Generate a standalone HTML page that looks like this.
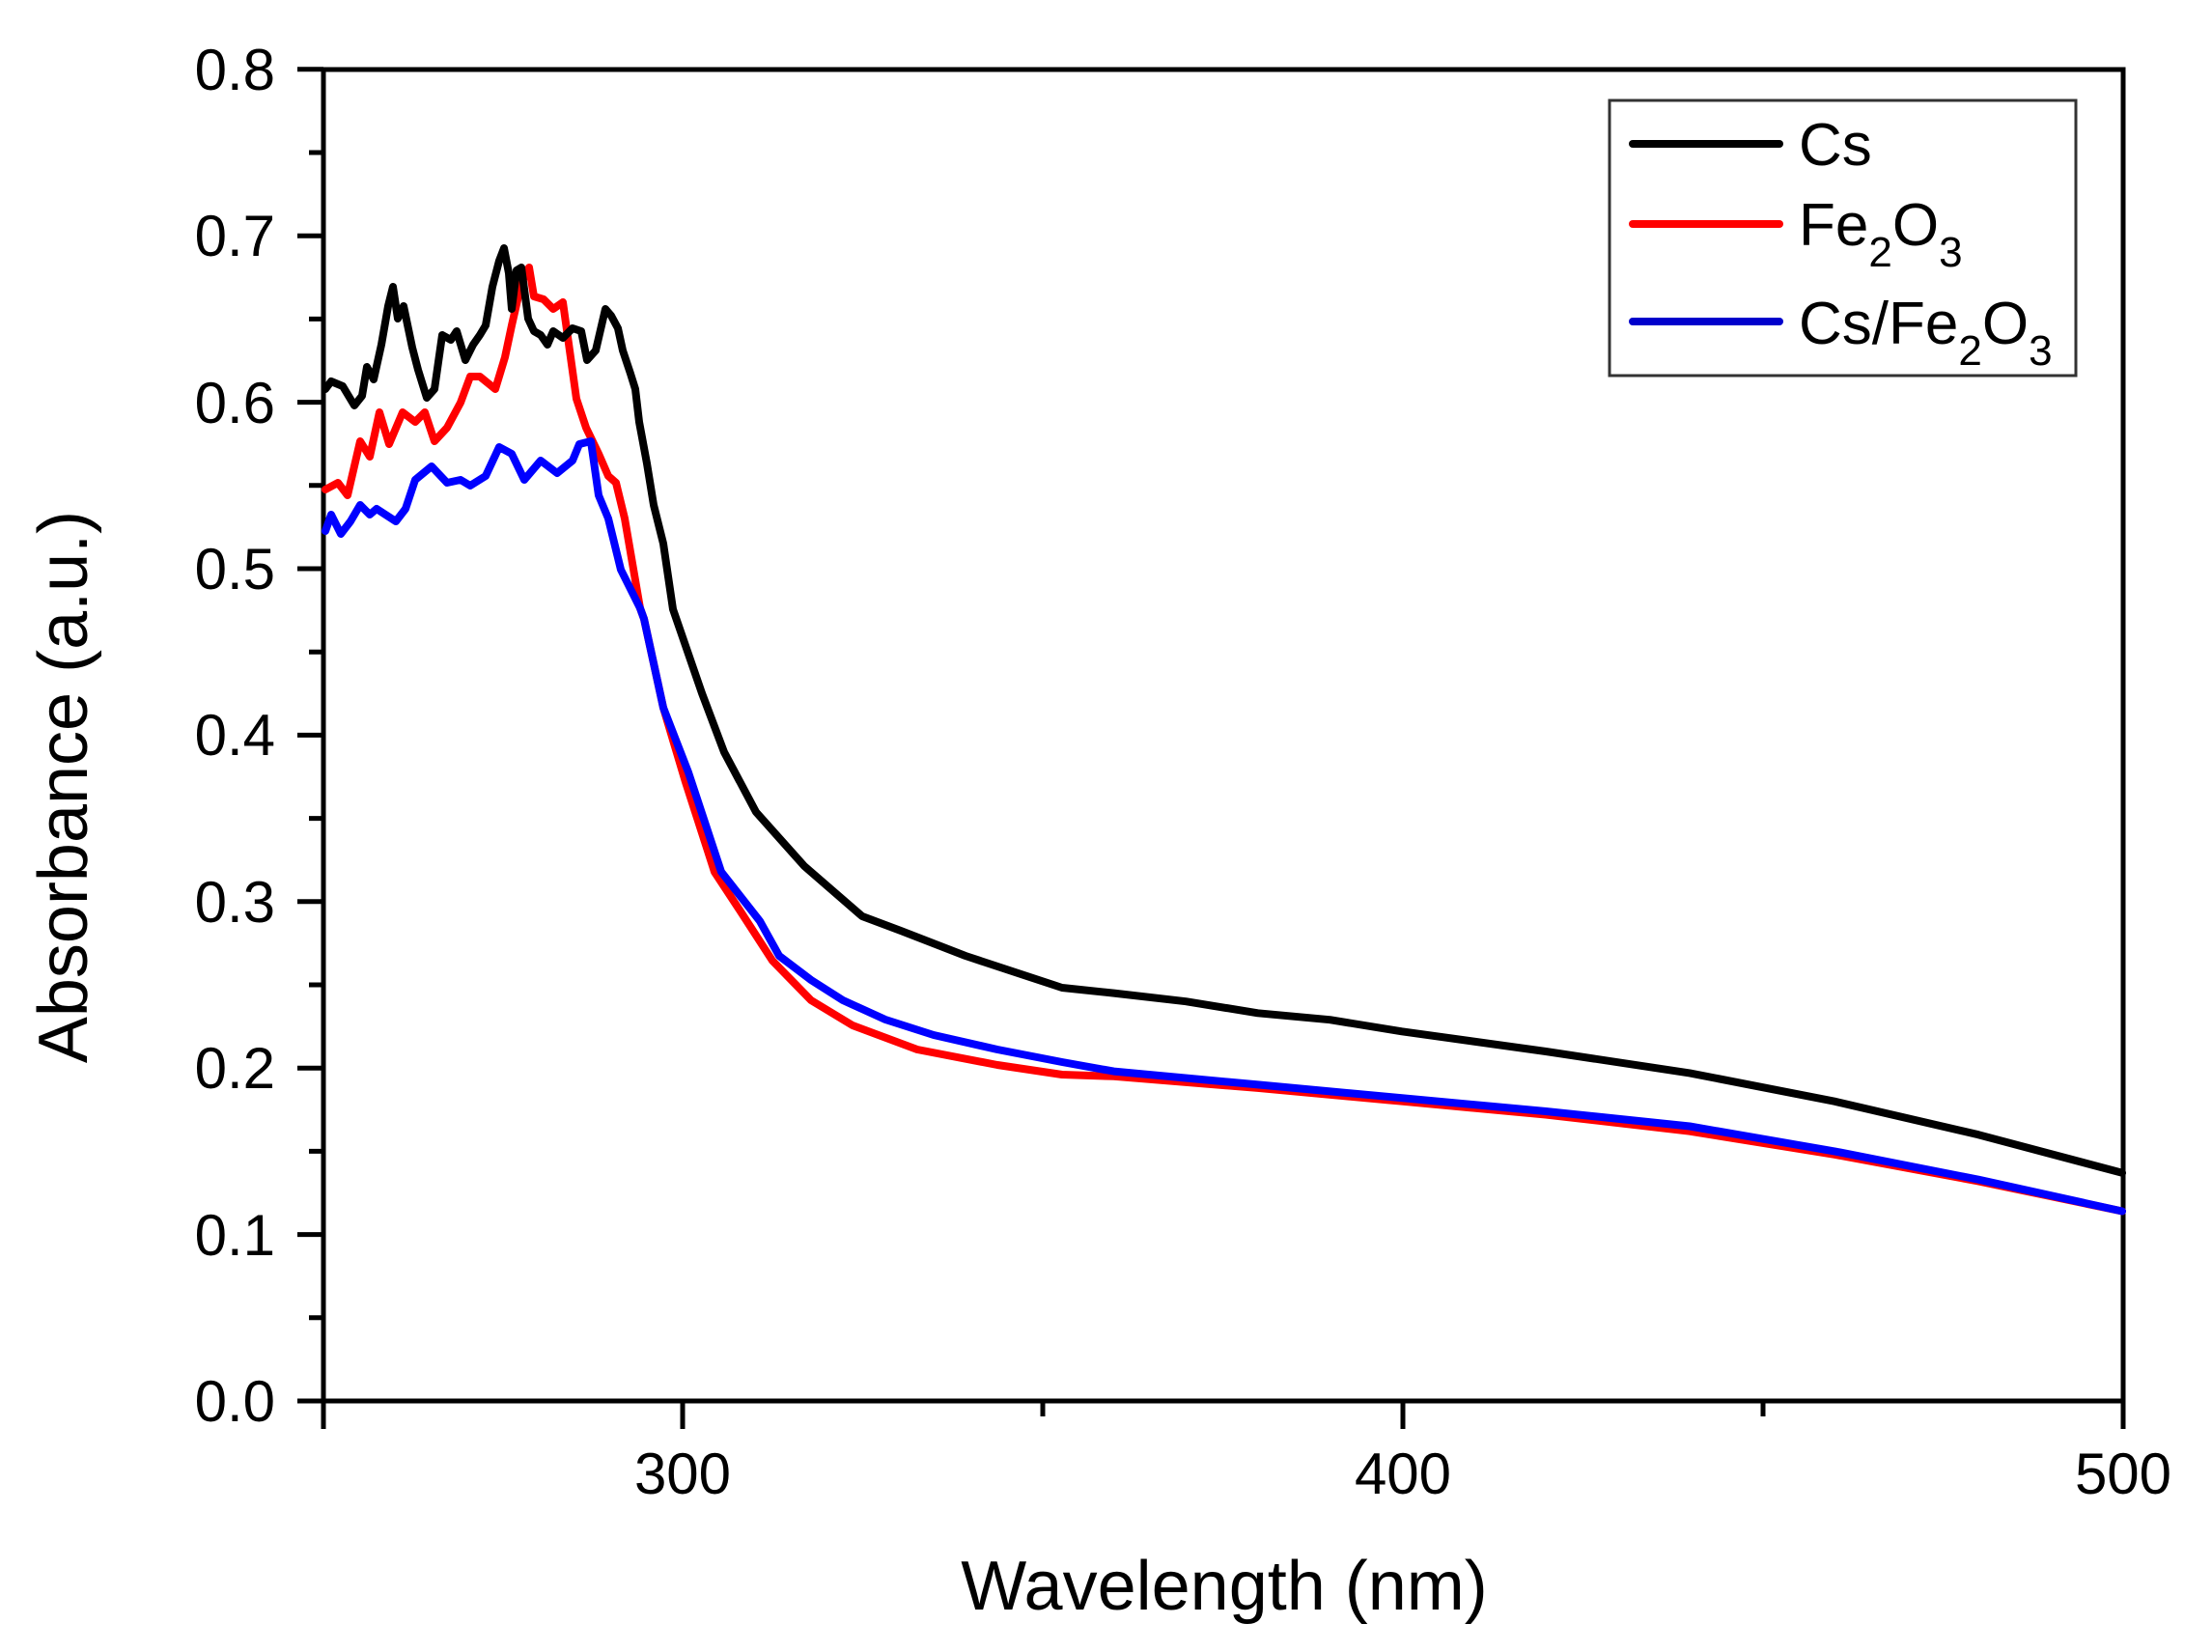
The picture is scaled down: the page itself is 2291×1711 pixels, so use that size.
<!DOCTYPE html>
<html><head><meta charset="utf-8"><style>
html,body{margin:0;padding:0;background:#fff;}
svg{display:block;font-family:"Liberation Sans",Arial,sans-serif;}
</style></head><body>
<svg width="2291" height="1711" viewBox="0 0 2291 1711" xmlns="http://www.w3.org/2000/svg">
<rect width="2291" height="1711" fill="#fff"/>
<g stroke="#000" stroke-width="5" fill="none">
<rect x="335" y="72" width="1864" height="1379"/>
<path d="M308 1451H335M308 1278.6H335M308 1106.2H335M308 933.8H335M308 761.4H335M308 589H335M308 416.6H335M308 244.2H335M308 71.8H335"/>
<path d="M320 1364.8H335M320 1192.4H335M320 1020H335M320 847.6H335M320 675.2H335M320 502.8H335M320 330.4H335M320 158H335"/>
<path d="M707 1451V1480M1453 1451V1480M2199 1451V1480M335 1451V1480"/>
<path d="M1080 1451V1467M1826 1451V1467"/>
</g>
<g font-size="60" fill="#000" text-anchor="end">
<text x="285" y="1472">0.0</text><text x="285" y="1300">0.1</text><text x="285" y="1127">0.2</text><text x="285" y="955">0.3</text><text x="285" y="782">0.4</text><text x="285" y="610">0.5</text><text x="285" y="438">0.6</text><text x="285" y="265">0.7</text><text x="285" y="93">0.8</text>
</g>
<g font-size="60" fill="#000" text-anchor="middle">
<text x="707" y="1547">300</text><text x="1453" y="1547">400</text><text x="2199" y="1547">500</text>
</g>
<text x="1268" y="1667" font-size="72" text-anchor="middle">Wavelength (nm)</text>
<text transform="translate(90,815) rotate(-90)" font-size="72" text-anchor="middle">Absorbance (a.u.)</text>
<g fill="none" stroke-width="8" stroke-linejoin="round" stroke-linecap="round">
<polyline stroke="#ff0000" points="337,507 350,500 360,513 373,457 383,473 393,427 403,460 417,427 430,437 440,427 450,457 463,443 477,417 487,390 497,390 513,403 523,370 530,337 540,293 548,277 553,307 563,310 573,320 583,313 590,363 597,413 607,443 620,470 630,493 638,500 647,537 663,630 667,641 687,733 710,810 740,903 767,944 800,995 840,1036 883,1062 950,1087 1033,1103 1100,1113 1153.6,1114.8 1302.8,1126.9 1452,1140.7 1601,1154.5 1750,1171.7 1900,1195.8 2049,1223.4 2198,1254.5"/>
<polyline stroke="#0000ff" points="337,550 343,533 353,553 363,540 373,523 383,533 390,527 410,540 420,527 430,497 447,483 463,500 477,497 487,503 503,493 517,463 530,470 543,497 560,477 577,490 593,477 600,460 612,457 620,513 630,537 643,590 663,630 667,641 687,733 713,800 747,903 787,954 807,990 840,1015 873,1036 917,1056 967,1072 1033,1087 1100,1100 1153.6,1109.6 1302.8,1123.4 1452,1137.2 1601,1151 1750,1166.5 1900,1192.4 2049,1221.7 2198,1254.5"/>
<polyline stroke="#000" points="337,403 343,395 355,400 367,420 375,410 380,380 387,393 395,357 402,317 407,297 412,330 418,317 427,360 433,383 442,412 450,403 458,347 467,352 473,343 482,373 490,357 497,347 503,337 510,297 517,270 522,257 527,283 530,320 535,280 540,277 547,330 553,343 560,347 567,357 573,343 583,350 593,340 602,343 608,373 617,363 627,320 633,327 640,340 645,363 653,387 658,403 662,437 670,480 677,523 687,563 697,631 727,718 750,779 783,841 833,897 893,949 933,964 1000,990 1100,1023 1153.6,1028.6 1228.2,1037.2 1302.8,1049.3 1377.4,1056.2 1452,1068.3 1601,1089 1750,1111.4 1900,1140.7 2049,1175.2 2198,1214.8"/>
</g>
<rect x="1667" y="104" width="483" height="285" fill="#fff" stroke="#333" stroke-width="3"/>
<g stroke-width="8" stroke-linecap="round">
<line x1="1691" y1="149" x2="1843" y2="149" stroke="#000"/>
<line x1="1691" y1="232" x2="1843" y2="232" stroke="#ff0000"/>
<line x1="1691" y1="333" x2="1843" y2="333" stroke="#0000cc"/>
</g>
<g font-size="62" fill="#000">
<text x="1863" y="171">Cs</text>
<text x="1863" y="254">Fe<tspan font-size="44" dy="22">2</tspan><tspan dy="-22">O</tspan><tspan font-size="44" dy="22">3</tspan></text>
<text x="1863" y="356">Cs/Fe<tspan font-size="44" dy="22">2</tspan><tspan dy="-22">O</tspan><tspan font-size="44" dy="22">3</tspan></text>
</g>
</svg>
</body></html>
